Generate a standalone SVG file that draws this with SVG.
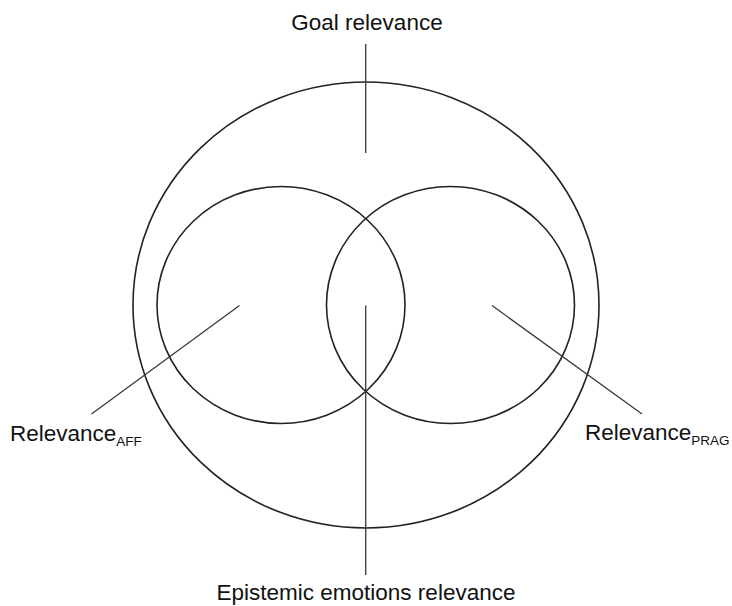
<svg xmlns="http://www.w3.org/2000/svg" width="732" height="606" viewBox="0 0 732 606">
<style>
.ring{fill:none;stroke:#222;stroke-width:1.6}
.lead{fill:none;stroke:#3a3a3a;stroke-width:1.3}
.lbl{font-family:"Liberation Sans",Arial,sans-serif;font-size:22.5px;fill:#111}
.sub{font-size:13.5px}
</style>
<rect width="732" height="606" fill="#fff"/>
<g id="goal">
<ellipse class="ring" cx="366" cy="305" rx="233" ry="223"/>
</g>
<g id="aff">
<ellipse class="ring" cx="281" cy="305" rx="124" ry="118.5"/>
</g>
<g id="prag">
<ellipse class="ring" cx="450.5" cy="305" rx="124" ry="118.5"/>
</g>
<g id="connectors">
<line class="lead" x1="365.7" y1="44" x2="365.7" y2="153"/>
<line class="lead" x1="365.7" y1="305.5" x2="365.7" y2="575"/>
<line class="lead" x1="239.5" y1="305.5" x2="91.5" y2="414"/>
<line class="lead" x1="492" y1="305.5" x2="642" y2="414"/>
</g>
<g id="labels">
<text class="lbl" x="367" y="30" text-anchor="middle">Goal relevance</text>
<text class="lbl" x="366" y="600" text-anchor="middle">Epistemic emotions relevance</text>
<text class="lbl" x="10" y="441">Relevance<tspan class="sub" dy="5">AFF</tspan></text>
<text class="lbl" x="585" y="440">Relevance<tspan class="sub" dy="5">PRAG</tspan></text>
</g>
</svg>
